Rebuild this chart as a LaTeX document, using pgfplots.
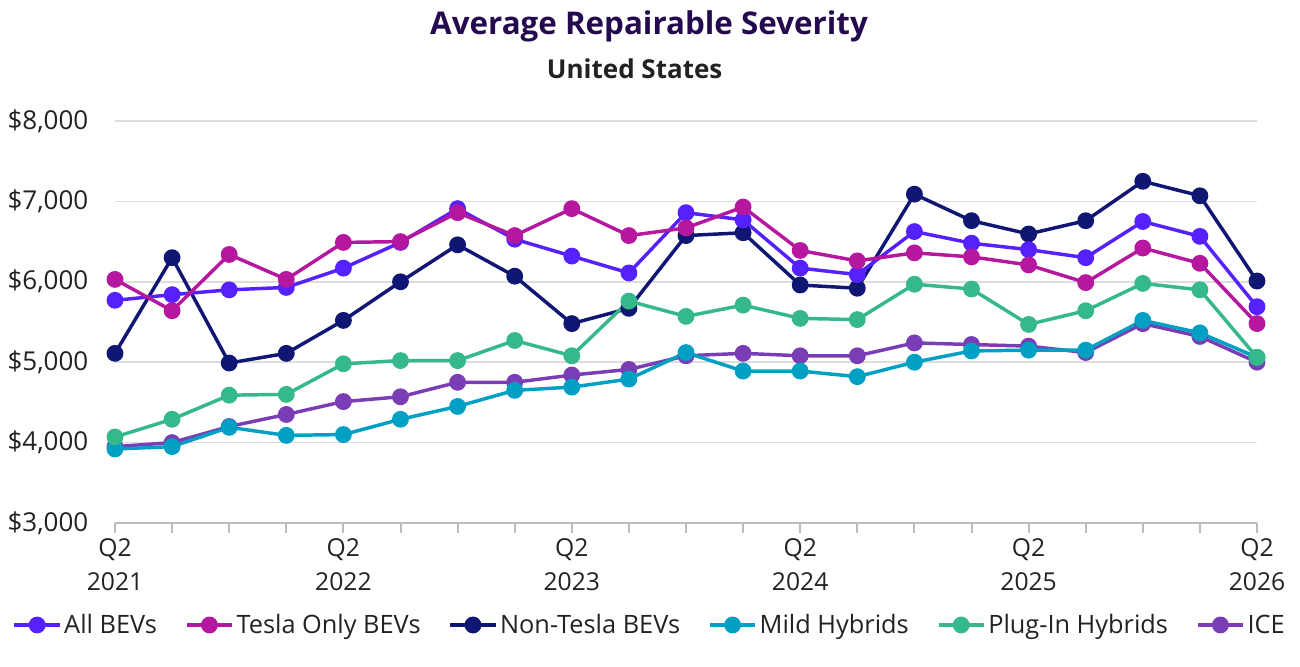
\documentclass[border=0pt]{standalone}
\usepackage{pgfplots}
\pgfplotsset{compat=1.18}
\usepackage{fontspec}
\setmainfont{Open Sans}
\definecolor{cAll}{HTML}{5522FF}
\definecolor{cTesla}{HTML}{B5179E}
\definecolor{cNon}{HTML}{0F1673}
\definecolor{cMild}{HTML}{00A0C4}
\definecolor{cPlug}{HTML}{35B98A}
\definecolor{cICE}{HTML}{7A3DB5}
\definecolor{cTitle}{HTML}{24094F}
\definecolor{cText}{HTML}{222222}
\definecolor{cGrid}{HTML}{DDDDDD}
\definecolor{cAxis}{HTML}{BBBBBB}
\begin{document}
\begin{tikzpicture}
\useasboundingbox (0pt,0pt) rectangle (975pt,-500.25pt);
\node[font=\fontsize{23.5}{28}\selectfont\bfseries, text=cTitle] at (486.75pt,-19.5pt) {Average Repairable Severity};
\node[font=\fontsize{19.5}{23}\selectfont\bfseries, text=cText] at (476pt,-51.5pt) {United States};
\begin{axis}[
  at={(86.25pt,-392.25pt)}, anchor=south west,
  scale only axis, width=856.5pt, height=301.5pt,
  xmin=0, xmax=20, ymin=3000, ymax=8000,
  axis x line*=bottom, axis y line*=left,
  y axis line style={draw=none},
  x axis line style={color=cAxis, line width=1.5pt},
  ytick={3000,4000,5000,6000,7000,8000},
  yticklabels={{\$3,000},{\$4,000},{\$5,000},{\$6,000},{\$7,000},{\$8,000}},
  ymajorgrids, grid style={color=cGrid, line width=1.1pt},
  ytick style={draw=none},
  xtick={0,4,8,12,16,20},
  minor xtick={0,...,20},
  xticklabels={{Q2\\2021},{Q2\\2022},{Q2\\2023},{Q2\\2024},{Q2\\2025},{Q2\\2026}},
  xtick style={color=cAxis, line width=1.5pt},
  tick align=outside, major tick length=7.5pt, minor tick length=7.5pt,
  xticklabel style={align=center, font=\fontsize{18.5}{25}\selectfont, text=cText, yshift=-1pt},
  yticklabel style={font=\fontsize{19.5}{21}\selectfont, text=cText, xshift=-9pt},
  legend columns=6,
  legend style={at={(0.4685,-0.2537)}, anchor=center, draw=none, fill=none,
    font=\fontsize{19}{21}\selectfont, text=cText,
    /tikz/every even column/.append style={column sep=19pt},
    /tikz/every odd column/.append style={column sep=0pt}},
  legend image code/.code={
    \draw[#1, line width=2.6pt, mark repeat=2, mark phase=2] plot coordinates {(0pt,0pt) (17pt,0pt) (34pt,0pt)};},
  every axis plot/.append style={line width=2.6pt, mark=*, mark size=5pt},
]
\addlegendimage{color=cAll, mark=*, mark size=5pt}
\addlegendentry{All BEVs}
\addlegendimage{color=cTesla, mark=*, mark size=5pt}
\addlegendentry{Tesla Only BEVs}
\addlegendimage{color=cNon, mark=*, mark size=5pt}
\addlegendentry{Non-Tesla BEVs}
\addlegendimage{color=cMild, mark=*, mark size=5pt}
\addlegendentry{Mild Hybrids}
\addlegendimage{color=cPlug, mark=*, mark size=5pt}
\addlegendentry{Plug-In Hybrids}
\addlegendimage{color=cICE, mark=*, mark size=5pt}
\addlegendentry{ICE}
% ICE
\addplot[color=cICE, forget plot] coordinates {(0,3950)(1,4000)(2,4200)(3,4350)(4,4510)(5,4570)(6,4750)(7,4750)(8,4840)(9,4910)(10,5080)(11,5110)(12,5080)(13,5080)(14,5240)(15,5220)(16,5200)(17,5120)(18,5480)(19,5320)(20,5000)};
% Mild Hybrids
\addplot[color=cMild, forget plot] coordinates {(0,3920)(1,3950)(2,4190)(3,4090)(4,4100)(5,4290)(6,4450)(7,4650)(8,4690)(9,4790)(10,5120)(11,4890)(12,4890)(13,4820)(14,5000)(15,5140)(16,5150)(17,5150)(18,5520)(19,5365)(20,5060)};
% Non-Tesla BEVs
\addplot[color=cNon, forget plot] coordinates {(0,5110)(1,6300)(2,4990)(3,5110)(4,5520)(5,6000)(6,6460)(7,6070)(8,5480)(9,5670)(10,6575)(11,6610)(12,5960)(13,5920)(14,7090)(15,6760)(16,6595)(17,6760)(18,7250)(19,7070)(20,6010)};
% All BEVs
\addplot[color=cAll, forget plot] coordinates {(0,5770)(1,5840)(2,5900)(3,5930)(4,6170)(5,6490)(6,6910)(7,6530)(8,6320)(9,6110)(10,6860)(11,6770)(12,6170)(13,6090)(14,6625)(15,6480)(16,6400)(17,6300)(18,6750)(19,6565)(20,5690)};
% Tesla Only BEVs
\addplot[color=cTesla, forget plot] coordinates {(0,6030)(1,5640)(2,6340)(3,6030)(4,6490)(5,6500)(6,6860)(7,6575)(8,6910)(9,6575)(10,6670)(11,6930)(12,6390)(13,6260)(14,6360)(15,6310)(16,6210)(17,5990)(18,6420)(19,6230)(20,5480)};
% Plug-In Hybrids
\addplot[color=cPlug, forget plot] coordinates {(0,4070)(1,4290)(2,4590)(3,4600)(4,4980)(5,5020)(6,5020)(7,5270)(8,5080)(9,5760)(10,5570)(11,5710)(12,5545)(13,5530)(14,5970)(15,5910)(16,5470)(17,5640)(18,5980)(19,5900)(20,5060)};
\end{axis}
\end{tikzpicture}
\end{document}
